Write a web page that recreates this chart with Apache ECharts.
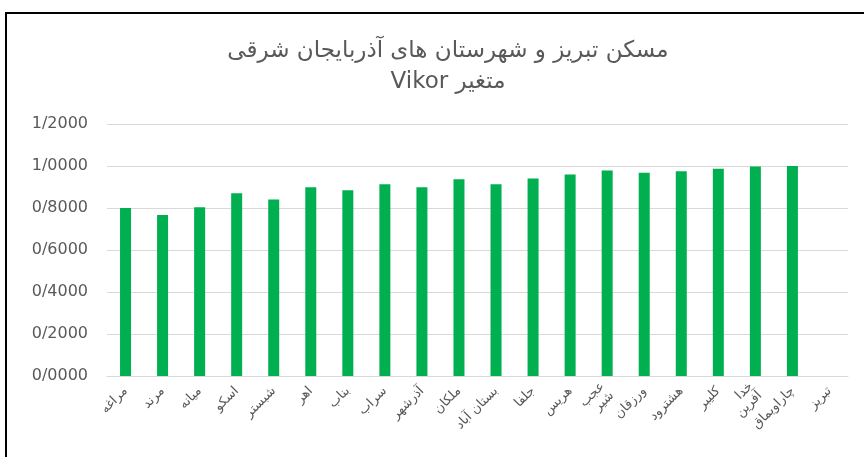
<!DOCTYPE html>
<html>
<head>
<meta charset="utf-8">
<script src="https://cdn.jsdelivr.net/npm/echarts@6/dist/echarts.min.js"></script>
<style>
    html, body { margin: 0; padding: 0; background: #fff; }
    #chart { width: 864px; height: 457px; }
</style>
</head>
<body>
<div id="chart"></div>
<script>
// شهرستان ها (counties)
var counties = ['مراغه', 'مرند', 'میانه', 'اسکو', 'شبستر', 'اهر', 'بناب', 'سراب', 'آذرشهر', 'ملکان',
    'بستان آباد', 'جلفا', 'هریس', 'عجب\nشیر', 'ورزقان', 'هشترود', 'کلیبر', 'خدا\nآفرین', 'چاراویماق', 'تبریز'];

// Vikor values
var vikorValues = [0.800, 0.767, 0.803, 0.870, 0.841, 0.899, 0.884, 0.913, 0.899, 0.937,
    0.913, 0.941, 0.960, 0.979, 0.968, 0.975, 0.987, 0.998, 1.000, 0];

var titleLine1 = 'مسکن تبریز و شهرستان های آذربایجان شرقی';
var titleLine2 = 'Vikor متغیر';

var yMin = 0, yMax = 1.2, yStep = 0.2;

var chart = echarts.init(document.getElementById('chart'));

var option = {
    backgroundColor: '#fff',
    animation: false,
    title: {
        text: titleLine1 + '\n' + titleLine2,
        left: 443,
        textAlign: 'center',
        top: 31,
        textStyle: {
            color: '#595959',
            fontSize: 23,
            fontWeight: 'normal',
            fontFamily: 'DejaVu Sans',
            lineHeight: 31
        }
    },
    graphic: [{
        type: 'rect',
        shape: { x: 6, y: 13, width: 900, height: 500 },
        style: { fill: 'none', stroke: '#000', lineWidth: 2 },
        silent: true
    }],
    grid: {
        left: 107,
        right: 16,
        top: 124,
        bottom: 81
    },
    xAxis: {
        type: 'category',
        data: counties,
        axisLine: { lineStyle: { color: '#d9d9d9' } },
        axisTick: { show: false },
        axisLabel: {
            interval: 0,
            rotate: 45,
            color: '#595959',
            fontSize: 13,
            fontFamily: 'DejaVu Sans',
            margin: 13
        }
    },
    yAxis: {
        type: 'value',
        min: yMin,
        max: yMax,
        interval: yStep,
        axisLine: { show: false },
        axisTick: { show: false },
        splitLine: { lineStyle: { color: '#d9d9d9', width: 1 } },
        axisLabel: {
            color: '#595959',
            fontSize: 16,
            fontFamily: 'DejaVu Sans',
            margin: 19,
            formatter: function (v) {
                return v.toFixed(4).replace('.', '/');
            }
        }
    },
    series: [{
        type: 'bar',
        data: vikorValues,
        barWidth: 11,
        itemStyle: { color: '#00b050' }
    }]
};

chart.setOption(option);
</script>
</body>
</html>
